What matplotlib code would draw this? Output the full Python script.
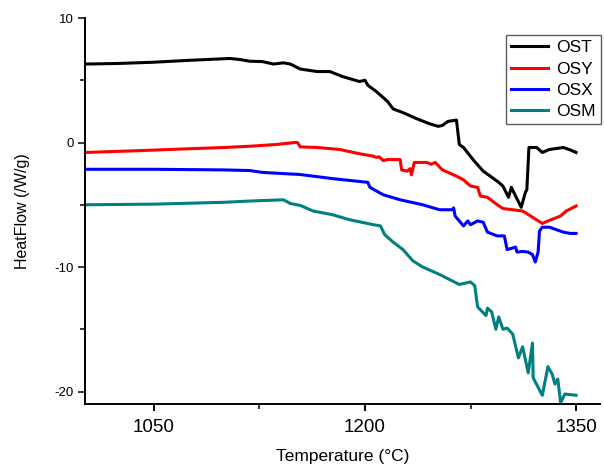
import matplotlib
matplotlib.use("Agg")
import matplotlib.pyplot as plt
from matplotlib.ticker import MultipleLocator

plt.rcParams['font.family'] = ['Liberation Sans', 'DejaVu Sans']
plt.rcParams['axes.unicode_minus'] = False

# Curves (temperature in °C, heat flow in W/g)
ost_t = [1001, 1025, 1050, 1075, 1104, 1112, 1118, 1127, 1135, 1142, 1147, 1154, 1166,
         1175, 1184, 1196, 1200, 1202, 1208, 1216, 1220, 1227, 1237, 1246, 1252, 1255,
         1259, 1265, 1267, 1270, 1277, 1284, 1289, 1295, 1298, 1302, 1304, 1307, 1311,
         1314, 1315, 1316.5, 1322, 1326, 1331, 1341, 1346, 1350]
ost_y = [6.3, 6.35, 6.45, 6.6, 6.75, 6.65, 6.53, 6.5, 6.3, 6.4, 6.3, 5.9, 5.7,
         5.7, 5.3, 4.9, 5.0, 4.6, 4.1, 3.3, 2.7, 2.4, 1.9, 1.5, 1.3, 1.37,
         1.7, 1.8, -0.16, -0.4, -1.4, -2.3, -2.7, -3.2, -3.5, -4.4, -3.6, -4.3, -5.2,
         -4.0, -3.8, -0.4, -0.4, -0.8, -0.56, -0.4, -0.6, -0.8]

osy_t = [1001, 1040, 1075, 1100, 1118, 1137, 1150, 1152, 1154, 1166, 1182, 1196, 1206,
         1208, 1210, 1213, 1216, 1225, 1226, 1230, 1232, 1233, 1235, 1244, 1247, 1250,
         1255, 1265, 1270, 1275, 1280, 1282, 1287, 1294, 1298, 1305, 1312, 1319, 1326,
         1330, 1339, 1343, 1350]
osy_y = [-0.8, -0.65, -0.5, -0.4, -0.3, -0.16, 0.0, 0.0, -0.35, -0.4, -0.56, -0.9, -1.1,
         -1.2, -1.15, -1.45, -1.37, -1.37, -2.2, -2.3, -2.1, -2.6, -1.6, -1.6, -1.75, -1.6,
         -2.2, -2.7, -3.0, -3.5, -3.6, -4.3, -4.4, -5.0, -5.3, -5.4, -5.5, -6.0, -6.5,
         -6.3, -5.9, -5.5, -5.1]

osx_t = [1001, 1050, 1100, 1118, 1127, 1154, 1177, 1202, 1203.5, 1213, 1225, 1241, 1253,
         1262, 1263, 1264, 1270, 1273, 1275, 1280, 1284, 1287, 1294, 1299, 1301, 1307,
         1308, 1312, 1316, 1319, 1321, 1323, 1324, 1326, 1331, 1341, 1346, 1350]
osx_y = [-2.15, -2.15, -2.2, -2.25, -2.4, -2.57, -2.9, -3.2, -3.6, -4.2, -4.6, -5.0, -5.4,
         -5.4, -5.25, -5.9, -6.7, -6.3, -6.6, -6.3, -6.4, -7.2, -7.5, -7.5, -8.6, -8.4,
         -8.8, -8.75, -8.8, -9.0, -9.6, -8.8, -7.1, -6.8, -6.8, -7.2, -7.3, -7.3]

osm_t = [1001, 1050, 1100, 1118, 1142, 1147, 1154, 1163, 1177, 1189, 1206, 1211, 1214,
         1220, 1227, 1234, 1241, 1253, 1267, 1275, 1278, 1280, 1286, 1287, 1290, 1293,
         1295, 1298, 1301, 1305, 1309, 1312, 1316, 1319, 1319.5, 1326, 1330, 1333, 1335,
         1337, 1339, 1342, 1350]
osm_y = [-5.0, -4.95, -4.8, -4.7, -4.6, -4.9, -5.05, -5.5, -5.8, -6.2, -6.6, -6.7, -7.4,
         -8.0, -8.6, -9.5, -10.0, -10.6, -11.4, -11.2, -11.5, -13.2, -13.9, -13.3, -13.6, -15.0,
         -14.0, -15.0, -14.9, -15.4, -17.3, -16.4, -18.5, -16.1, -18.9, -20.3, -18.0, -18.6, -19.4,
         -19.0, -20.9, -20.2, -20.3]

series = [('OST', ost_t, ost_y, '#000000'),
          ('OSY', osy_t, osy_y, '#ff0000'),
          ('OSX', osx_t, osx_y, '#0000ff'),
          ('OSM', osm_t, osm_y, '#008080')]

fig = plt.figure(figsize=(6.04, 4.67), dpi=100)
ax = fig.add_axes([85 / 604, 1 - 404 / 467, 515 / 604, 386 / 467])

for name, t, y, color in series:
    ax.plot(t, y, color=color, lw=2.2, label=name)

ax.set_xlim(1001, 1367)
ax.set_ylim(-21, 10)

ax.xaxis.set_major_locator(MultipleLocator(150))
ax.xaxis.set_minor_locator(MultipleLocator(75))
ax.yaxis.set_major_locator(MultipleLocator(10))
ax.yaxis.set_minor_locator(MultipleLocator(5))

ax.spines['top'].set_visible(False)
ax.spines['right'].set_visible(False)
for side in ('left', 'bottom'):
    ax.spines[side].set_linewidth(1.4)

ax.tick_params(axis='x', which='major', length=5, width=1.4, labelsize=13.5, pad=6)
ax.tick_params(axis='y', which='major', length=5, width=1.1, labelsize=9.5, pad=3)
ax.tick_params(which='minor', length=3.5, width=1.1)

ax.set_xlabel('Temperature (°C)', fontsize=12.5, labelpad=9)
ax.set_ylabel('HeatFlow (/W/g)', fontsize=11.5, labelpad=18)

leg = ax.legend(loc='upper right', bbox_to_anchor=(601 / 604, 1 - 35 / 467),
                bbox_transform=fig.transFigure, fontsize=12.5, frameon=True,
                fancybox=False, handlelength=2.1, handletextpad=0.5,
                labelspacing=0.35, borderpad=0.3, borderaxespad=0)
leg.get_frame().set_edgecolor('#333333')
leg.get_frame().set_linewidth(1.0)

fig.savefig('out.png', dpi=100, facecolor='white')
